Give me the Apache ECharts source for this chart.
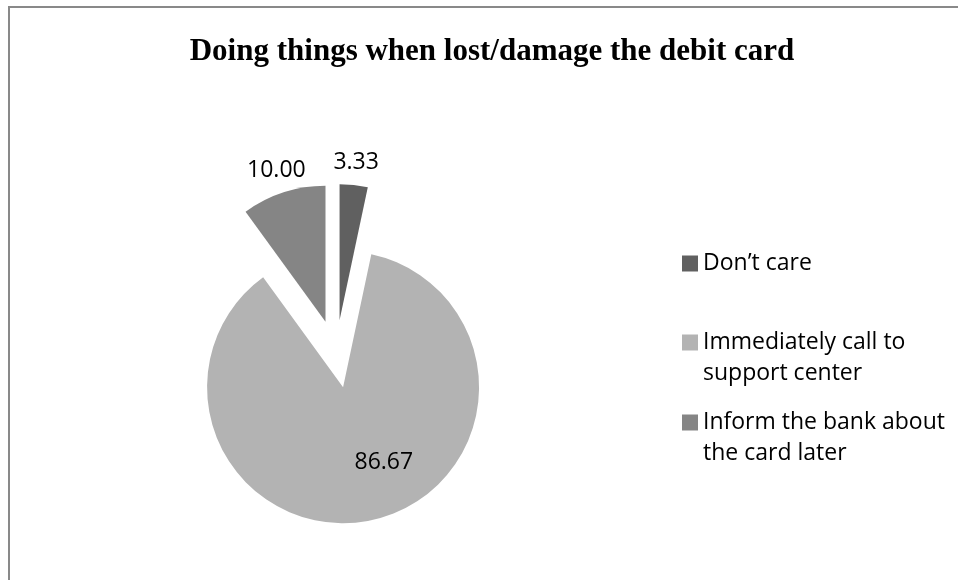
<!DOCTYPE html>
<html>
<head>
<meta charset="utf-8">
<script src="https://cdn.jsdelivr.net/npm/echarts@6/dist/echarts.min.js"></script>
<style>
    html, body { margin: 0; padding: 0; background: #fff; }
    #echarts1 { width: 958px; height: 580px; }
    /* frame of the original chart area, cut by the picture on right and bottom */
    #frame {
        position: absolute; left: 8px; top: 6px; width: 980px; height: 600px;
        border-left: 2px solid #898989; border-top: 2px solid #898989;
        pointer-events: none;
    }
</style>
</head>
<body>
<div id="echarts1"></div>
<div id="frame"></div>
<script>
var titleText = 'Doing things when lost/damage the debit card';
var categories = ['Don\u2019t care', 'Immediately call to support center', 'Inform the bank about the card later'];
var values = [3.33, 86.67, 10.00];
var colors = ['#606060', '#b3b3b3', '#858585'];

// 图例: one legend per entry so the square sits on the first text line
function legendFor(i, top) {
    var twoLines = i > 0;
    return {
        orient: 'vertical',
        left: 677,
        top: top,
        itemWidth: 16,
        itemHeight: twoLines ? 47 : 16,
        // square at the top of a taller icon box for wrapped names
        icon: twoLines ? 'path://M0,0H16V16H0ZM0,47' : 'rect',
        itemStyle: { borderWidth: 0 },
        selectedMode: false,
        data: [categories[i]],
        textStyle: {
            fontFamily: 'Open Sans',
            fontSize: 23,
            lineHeight: 31,
            color: '#000',
            width: 262,
            overflow: 'break'
        }
    };
}

// 饼图
function PIE() {
    var dom = document.getElementById("echarts1");
    var myChart = echarts.init(dom);
    var data = categories.map((name, i) => ({
        name: name,
        value: values[i],
        selected: true,
        itemStyle: { color: colors[i] },
        label: { position: i === 1 ? 'inside' : 'outside' }
    }));
    option = {
        animation: false,
        title: {
            text: titleText,
            left: 487,
            top: 29,
            textAlign: 'center',
            textStyle: {
                fontFamily: 'Liberation Serif',
                fontWeight: 'bold',
                fontSize: 31,
                lineHeight: 36,
                color: '#000'
            }
        },
        legend: [legendFor(0, 243), legendFor(1, 322), legendFor(2, 402)],
        series: [{
            name: 'card',
            type: 'pie',
            center: [336, 354],
            radius: 136,
            startAngle: 90,
            clockwise: true,
            selectedMode: 'multiple',
            selectedOffset: 34,
            emphasis: { disabled: true },
            label: {
                show: true,
                formatter: p => p.value.toFixed(2),
                fontFamily: 'Open Sans',
                fontSize: 23,
                color: '#000',
                distanceToLabelLine: 0
            },
            labelLine: { show: false, length: 23, length2: 0 },
            labelLayout: function (p) {
                if (p.dataIndex === 1) {
                    return { dx: 26, dy: 6 };
                }
                var w = p.labelRect.width / 2;
                return { dx: p.align === 'left' ? -w : w };
            },
            data: data
        }]
    };
    if (option && typeof option === "object") {
        myChart.setOption(option, true);
    }
}
PIE();
</script>
</body>
</html>
